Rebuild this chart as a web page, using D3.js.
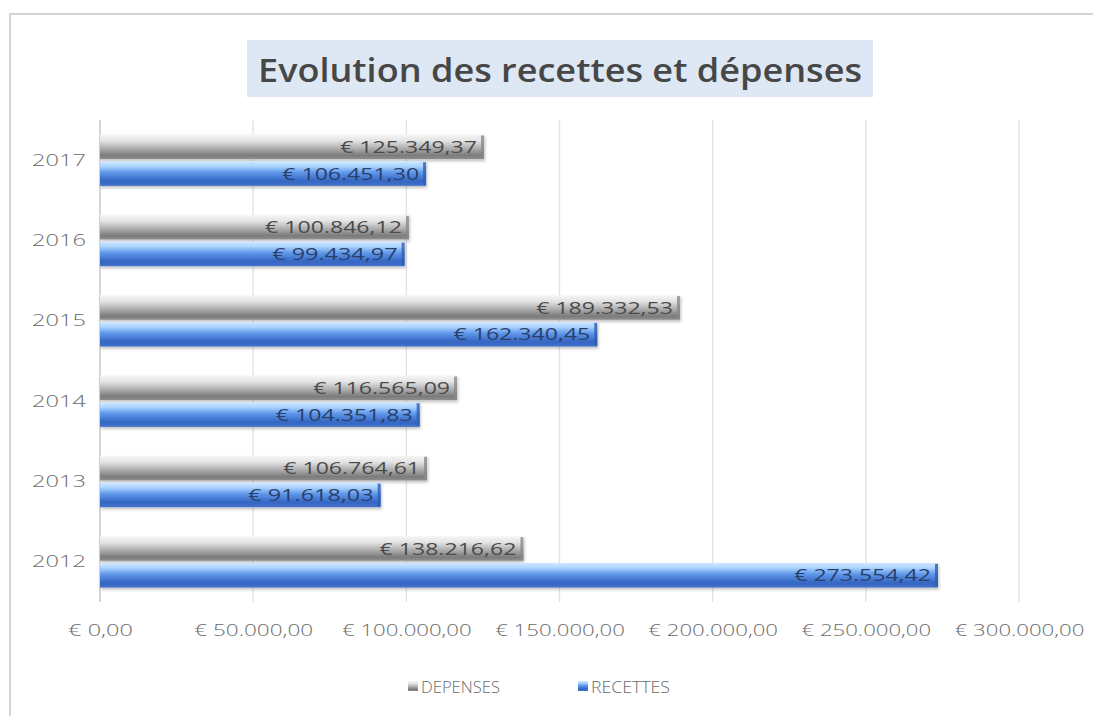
<!DOCTYPE html>
<html><head><meta charset="utf-8">
<script src="https://cdn.jsdelivr.net/npm/d3@7"></script>
<style>
html,body{margin:0;padding:0;background:#fff;}
svg{display:block;font-family:"Open Sans","Liberation Sans",sans-serif;}
</style></head>
<body>
<svg id="c" width="1093" height="716"></svg>
<script>
const years = ["2012","2013","2014","2015","2016","2017"];
const depenses = [138216.62, 106764.61, 116565.09, 189332.53, 100846.12, 125349.37];
const recettes = [273554.42, 91618.03, 104351.83, 162340.45, 99434.97, 106451.30];
const xTicks = [0, 50000, 100000, 150000, 200000, 250000, 300000];
const seriesNames = ["DEPENSES", "RECETTES"];
const titleText = "Evolution des recettes et dépenses";

const locale = d3.formatLocale({decimal:",", thousands:".", grouping:[3], currency:["€ ",""]});
const fmt = locale.format("$,.2f");

const svg = d3.select("#c");
const defs = svg.append("defs");

const gGray = defs.append("linearGradient").attr("id","gGray").attr("x1",0).attr("x2",0).attr("y1",0).attr("y2",1);
[[0,"#f6f6f6"],[0.25,"#e4e4e4"],[0.6,"#a8a8a8"],[0.85,"#7b7b7b"],[1,"#8e8e8e"]].forEach(s=>gGray.append("stop").attr("offset",s[0]).attr("stop-color",s[1]));
const gBlue = defs.append("linearGradient").attr("id","gBlue").attr("x1",0).attr("x2",0).attr("y1",0).attr("y2",1);
[[0,"#d2e8ff"],[0.2,"#acd4ff"],[0.45,"#6199ea"],[0.8,"#3466c4"],[1,"#4472c9"]].forEach(s=>gBlue.append("stop").attr("offset",s[0]).attr("stop-color",s[1]));
const f = defs.append("filter").attr("id","sh").attr("x","-5%").attr("y","-30%").attr("width","110%").attr("height","180%");
f.append("feDropShadow").attr("dx",1).attr("dy",2).attr("stdDeviation",1.5).attr("flood-color","#000").attr("flood-opacity",0.25);

svg.append("rect").attr("x",10).attr("y",14).attr("width",1100).attr("height",710)
  .attr("fill","#fff").attr("stroke","#d4d4d4").attr("stroke-width",2);

svg.append("rect").attr("x",247).attr("y",40).attr("width",626).attr("height",57).attr("fill","#dde8f4");
svg.append("text").attr("x",560).attr("y",82).attr("text-anchor","middle")
  .attr("font-size",33).attr("font-weight",600).attr("fill","#474747")
  .attr("textLength",604).attr("lengthAdjust","spacingAndGlyphs").text(titleText);

const x = d3.scaleLinear().domain([0,300000]).range([100,1019]);
const y = d3.scaleBand().domain(years.slice().reverse()).range([120,602]).paddingInner(0.36).paddingOuter(0.18);
const y2 = d3.scaleBand().domain(seriesNames).range([0,y.bandwidth()]).paddingInner(0.08);

svg.append("g").selectAll("line").data(xTicks).join("line")
  .attr("x1",d=>x(d)).attr("x2",d=>x(d)).attr("y1",120).attr("y2",602)
  .attr("stroke",(d,i)=>i===0?"#c8c8c8":"#e2e2e2").attr("stroke-width",(d,i)=>i===0?1.5:1.3);

const xAxis = d3.axisBottom(x).tickValues(xTicks).tickFormat(fmt).tickSize(0).tickPadding(0);
const gx = svg.append("g").attr("transform","translate(0,622)").call(xAxis);
gx.select(".domain").remove();
gx.selectAll("text").attr("font-size",16).attr("fill","#6a6a6a").attr("font-family","'Open Sans',sans-serif")
  .attr("dy","0.9em").attr("font-weight",300)
  .attr("textLength",function(){return this.textContent.length*10.8;}).attr("lengthAdjust","spacingAndGlyphs");

const yAxis = d3.axisLeft(y).tickSize(0).tickPadding(0);
const gy = svg.append("g").attr("transform","translate(86,0)").call(yAxis);
gy.select(".domain").remove();
gy.selectAll("text").attr("font-size",17).attr("fill","#6a6a6a").attr("font-family","'Open Sans',sans-serif")
  .attr("font-weight",300).attr("textLength",54).attr("lengthAdjust","spacingAndGlyphs");

const rows = years.map((yr,i)=>({yr, vals:[{s:"DEPENSES",v:depenses[i]},{s:"RECETTES",v:recettes[i]}]}));
const grp = svg.append("g").selectAll("g").data(rows).join("g").attr("transform",d=>`translate(0,${y(d.yr)})`);
const bar = grp.selectAll("g").data(d=>d.vals).join("g").attr("transform",d=>`translate(0,${y2(d.s)})`);
bar.append("rect").attr("x",x(0)).attr("y",0).attr("width",d=>x(d.v)-x(0)).attr("height",y2.bandwidth())
  .attr("fill",d=>d.s==="DEPENSES"?"url(#gGray)":"url(#gBlue)").attr("filter","url(#sh)");
bar.append("rect").attr("x",d=>x(d.v)-3).attr("y",1).attr("width",3).attr("height",y2.bandwidth()-2)
  .attr("fill",d=>d.s==="DEPENSES"?"#8a8a8a":"#2f5cb0").attr("opacity",0.8);
bar.append("text").attr("x",d=>x(d.v)-7).attr("y",y2.bandwidth()/2).attr("dy","0.36em")
  .attr("text-anchor","end").attr("font-size",17)
  .attr("fill",d=>d.s==="DEPENSES"?"#4a4a4a":"#2a3f6a").text(d=>fmt(d.v))
  .attr("textLength",function(){return this.textContent.length*11.4;}).attr("lengthAdjust","spacingAndGlyphs");

const legend = svg.append("g");
const leg = [{s:"DEPENSES",x:408,c:"url(#gGray)"},{s:"RECETTES",x:578,c:"url(#gBlue)"}];
leg.forEach(l=>{
  legend.append("rect").attr("x",l.x).attr("y",681).attr("width",10).attr("height",10).attr("fill",l.c);
  legend.append("text").attr("x",l.x+13).attr("y",693).attr("font-size",16).attr("font-weight",300).attr("fill","#6a6a6a")
    .attr("textLength",79).attr("lengthAdjust","spacingAndGlyphs").text(l.s);
});
</script>
</body></html>
